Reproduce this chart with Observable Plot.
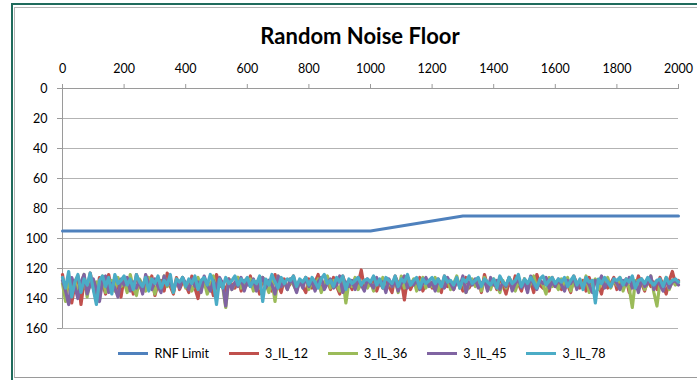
<!DOCTYPE html>
<html>
<head>
<meta charset="utf-8">
<script src="https://cdn.jsdelivr.net/npm/d3@7"></script>
<script src="https://cdn.jsdelivr.net/npm/@observablehq/plot@0.6"></script>
<style>
  html, body { margin: 0; padding: 0; background: #fff; }
  #wrap { position: relative; width: 697px; height: 380px; overflow: hidden; font-family: Lato, "Open Sans", sans-serif; }
  .frame-outer { position: absolute; left: 11px; top: 3px; right: -5px; bottom: -5px; border-left: 2px solid #1f6b5c; border-top: 2px solid #1f6b5c; }
  .frame-inner { position: absolute; left: 14px; top: 7px; right: -5px; bottom: 2px; border-left: 1px solid #b5b5b5; border-top: 1px solid #b5b5b5; border-bottom: 1px solid #9a9a9a; }
  #title { position: absolute; left: 0; width: 720px; top: 22px; text-align: center; font-weight: bold; font-size: 22px; color: #000; }
  #chart { position: absolute; left: 0; top: 50px; }
  #legend { position: absolute; left: 0; width: 724px; top: 346px; display: flex; justify-content: center; gap: 20px; font-size: 12.5px; color: #000; }
  .item { display: flex; align-items: center; gap: 6px; }
  .sw { width: 30px; height: 3px; }
</style>
</head>
<body>
<div id="wrap">
  <div class="frame-outer"></div>
  <div class="frame-inner"></div>
  <div id="title">Random Noise Floor</div>
  <div id="chart"></div>
  <div id="legend"></div>
</div>
<script>
// ---- data ----
const seriesNames = ["RNF Limit", "3_IL_12", "3_IL_36", "3_IL_45", "3_IL_78"];
const seriesColors = ["#4F81BD", "#C0504D", "#9BBB59", "#8064A2", "#4BACC6"];
const xTicks = [0, 200, 400, 600, 800, 1000, 1200, 1400, 1600, 1800, 2000];
const yTicks = [0, 20, 40, 60, 80, 100, 120, 140, 160];

const limitX = [0, 1000, 1300, 2000];
const limitY = [95, 95, 85, 85];

const noiseStep = 10; // samples every 10 units along x, 0..2000

const il12 = [
124,138,127,143,131,125,144,129,136,123,133,141,126,130,137,124,135,128,132,139,
126,134,129,137,124,131,136,127,133,125,138,130,128,135,123,132,137,126,134,129,
131,136,125,133,140,128,127,134,130,138,124,132,129,136,127,131,133,126,135,128,
130,125,134,129,137,126,132,128,135,124,131,136,127,133,130,125,134,128,132,136,
127,133,129,124,135,130,128,134,126,132,137,125,131,129,134,127,130,121,133,128,
131,126,135,129,133,127,132,136,125,130,128,141,127,134,129,132,126,135,130,128,
133,127,131,136,125,132,129,134,128,130,135,126,133,129,131,127,136,124,132,130,
128,134,126,131,137,129,133,125,130,135,127,132,129,136,124,131,133,128,135,126,
132,129,134,127,131,136,125,130,133,128,135,126,132,129,131,137,127,133,130,126,
134,129,131,127,136,128,133,125,130,135,127,132,129,134,126,131,137,128,122,130,
128];

const il36 = [
130,142,126,134,128,137,131,124,139,127,133,129,141,125,136,130,128,135,126,132,
129,136,124,133,138,127,131,135,126,130,137,128,134,125,132,129,136,127,131,126,
133,128,135,130,126,134,129,137,131,125,136,128,132,146,127,134,130,126,133,129,
131,127,135,129,133,126,130,136,128,142,125,132,129,134,127,131,135,128,130,126,
134,129,132,127,136,130,125,133,128,131,135,127,143,129,132,126,134,130,128,133,
129,135,127,131,126,134,130,132,128,136,125,133,129,131,127,135,130,126,133,128,
132,126,135,129,131,127,134,130,125,133,128,136,131,127,132,129,135,126,130,134,
127,131,136,128,133,126,130,135,129,132,127,134,130,125,133,128,131,137,126,132,
130,134,127,131,126,135,129,133,128,132,125,136,130,127,134,129,131,126,133,128,
131,126,135,129,133,146,128,132,127,134,130,125,136,145,129,132,126,134,128,131,
129];

const il45 = [
128,135,144,126,132,140,129,124,137,131,127,134,142,128,125,136,130,133,139,127,
131,126,135,129,133,128,137,124,130,134,127,132,136,125,131,129,135,128,133,126,
130,134,127,132,129,136,125,131,135,128,133,126,130,145,127,134,129,132,126,135,
129,132,127,135,130,126,133,128,131,137,125,132,129,134,127,130,136,128,133,126,
132,128,135,129,126,134,130,127,133,131,125,136,129,132,128,134,126,131,135,127,
130,133,126,131,129,136,127,132,128,135,130,125,133,129,131,127,134,130,126,132,
129,135,127,131,133,126,130,134,128,132,125,136,129,131,127,133,130,128,135,126,
131,128,134,129,132,126,135,130,127,133,129,136,125,131,134,128,130,126,133,129,
132,127,131,135,128,130,126,134,129,133,127,131,136,128,130,125,133,129,132,127,
130,134,128,131,126,133,129,136,127,132,130,125,134,128,131,135,127,133,129,128,
131];

const il78 = [
126,133,122,139,129,124,136,127,131,123,134,144,128,125,132,126,137,124,130,128,
125,131,127,134,124,129,132,126,135,127,130,125,133,128,131,124,136,127,129,126,
132,127,130,125,134,128,126,131,124,129,144,127,133,126,130,128,125,131,127,129,
126,132,128,130,125,142,127,131,124,129,133,126,130,127,128,125,132,127,129,126,
131,126,129,133,127,124,130,128,132,126,129,125,134,127,130,128,126,131,128,127,
129,125,131,127,133,126,128,130,125,132,127,129,124,131,128,126,133,127,130,128,
126,130,127,132,125,129,128,131,126,133,127,129,125,130,128,126,132,127,129,131,
127,133,125,129,131,126,130,128,124,132,127,130,126,129,133,127,125,131,128,126,
130,127,129,126,132,128,125,131,127,134,126,129,128,143,127,130,126,129,132,127,
128,126,131,127,129,125,133,128,127,130,126,129,131,128,127,132,126,130,128,127,
129];

// ---- build tables ----
const limitData = limitX.map((x, i) => ({x, y: limitY[i]}));
const noise = [il12, il36, il45, il78].map(vals => vals.map((v, i) => ({x: i * noiseStep, y: v})));

const chart = Plot.plot({
  width: 697,
  height: 290,
  marginLeft: 62,
  marginRight: 19,
  marginTop: 38,
  marginBottom: 12,
  style: {fontFamily: "Lato, 'Open Sans', sans-serif", fontSize: "12.5px", color: "#000", background: "transparent"},
  x: {domain: [0, 2000], axis: null},
  y: {domain: [0, 160], reverse: true, axis: null},
  marks: [
    Plot.ruleY(yTicks.slice(1), {stroke: "#b3b3b3", strokeWidth: 1}),
    Plot.ruleY([0], {stroke: "#9a9a9a", strokeWidth: 1}),
    Plot.ruleX([0], {stroke: "#9a9a9a", strokeWidth: 1}),
    Plot.axisX({anchor: "top", ticks: xTicks, tickSize: 5, tickPadding: 11, stroke: "#9a9a9a", tickFormat: d => String(d), label: null, fill: "#000"}),
    Plot.axisY({anchor: "left", ticks: yTicks, tickSize: 5, tickPadding: 10, stroke: "#9a9a9a", tickFormat: d => String(d), label: null, fill: "#000"}),
    Plot.line(limitData, {x: "x", y: "y", stroke: seriesColors[0], strokeWidth: 3}),
    ...noise.map((d, k) => Plot.line(d, {x: "x", y: "y", stroke: seriesColors[k + 1], strokeWidth: 3.2, strokeLinejoin: "round"}))
  ]
});
document.getElementById("chart").appendChild(chart);

const legend = document.getElementById("legend");
seriesNames.forEach((name, i) => {
  const it = document.createElement("div");
  it.className = "item";
  const sw = document.createElement("div");
  sw.className = "sw";
  sw.style.background = seriesColors[i];
  const tx = document.createElement("span");
  tx.textContent = name;
  it.appendChild(sw); it.appendChild(tx);
  legend.appendChild(it);
});
</script>
</body>
</html>
